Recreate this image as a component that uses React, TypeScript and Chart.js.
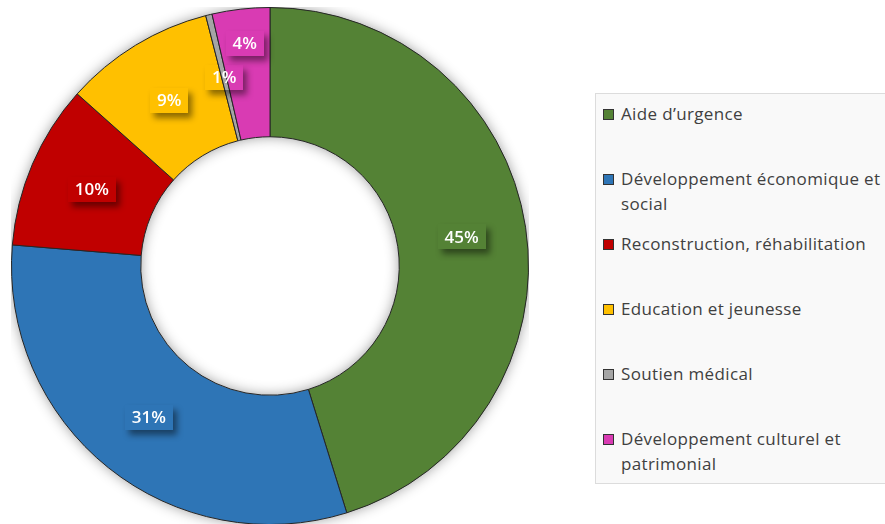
import React, { useEffect, useRef } from "react";
import { Chart, registerables } from "chart.js";

Chart.register(...registerables);

const categories = [
  "Aide d’urgence",
  "Développement économique et social",
  "Reconstruction, réhabilitation",
  "Education et jeunesse",
  "Soutien médical",
  "Développement culturel et patrimonial",
];
const shares = [45.2, 31.1, 10.3, 9.4, 0.4, 3.6];
const shareLabels = ["45%", "31%", "10%", "9%", "1%", "4%"];
const colors = ["#548235", "#2E75B6", "#C00000", "#FFC000", "#A5A5A5", "#D93BB3"];

const labelFills = ["#548235", "#2E75B6", "#C00000", "#FFC000", "transparent", "#D93BB3"];
const labelShift = [0, 0, 0, 0, 0, 30];

const ringShadow = {
  id: "ringShadow",
  beforeDatasetsDraw(chart: any) {
    const meta = chart.getDatasetMeta(0);
    const a = meta.data[0];
    if (!a) return;
    const { x, y, innerRadius, outerRadius } = a.getProps(["x", "y", "innerRadius", "outerRadius"], true);
    const ctx = chart.ctx;
    ctx.save();
    ctx.shadowColor = "rgba(0,0,0,0.45)";
    ctx.shadowBlur = 14;
    ctx.fillStyle = "#888";
    ctx.beginPath();
    ctx.arc(x, y, outerRadius - 1, 0, Math.PI * 2);
    ctx.arc(x, y, innerRadius + 1, 0, Math.PI * 2, true);
    ctx.fill("evenodd");
    ctx.restore();
  },
};

const boxLabels = {
  id: "boxLabels",
  afterDatasetsDraw(chart: any) {
    const meta = chart.getDatasetMeta(0);
    const ctx = chart.ctx;
    ctx.save();
    ctx.font = "600 17px 'Open Sans'";
    meta.data.forEach((arc: any, i: number) => {
      const p = arc.getProps(["x", "y", "startAngle", "endAngle", "innerRadius", "outerRadius"], true);
      const mid = (p.startAngle + p.endAngle) / 2;
      const r = (p.innerRadius + p.outerRadius) / 2 + labelShift[i];
      const cx = p.x + Math.cos(mid) * r;
      const cy = p.y + Math.sin(mid) * r;
      const text = shareLabels[i];
      const tw = ctx.measureText(text).width;
      const w = Math.round(tw + 14);
      const h = 25;
      const bx = Math.round(cx - w / 2);
      const by = Math.round(cy - h / 2);
      ctx.save();
      ctx.beginPath();
      ctx.rect(0, 0, chart.width, chart.height);
      ctx.rect(bx, by, w, h);
      ctx.clip("evenodd");
      ctx.filter = "blur(3px)";
      ctx.fillStyle = "rgba(0,0,0,0.45)";
      ctx.fillRect(bx + 4, by + 5, w, h);
      ctx.restore();
      if (labelFills[i] !== "transparent") {
        ctx.fillStyle = labelFills[i];
        ctx.fillRect(bx, by, w, h);
      }
      ctx.fillStyle = "#ffffff";
      ctx.textAlign = "center";
      ctx.textBaseline = "middle";
      ctx.fillText(text, cx, cy + 1);
    });
    ctx.restore();
  },
};

export default function App() {
  const ref = useRef<HTMLCanvasElement | null>(null);
  useEffect(() => {
    if (!ref.current) return;
    const chart = new Chart(ref.current, {
      type: "doughnut",
      data: {
        labels: categories,
        datasets: [
          {
            data: shares,
            backgroundColor: colors,
            borderColor: "#262626",
            borderWidth: 1,
          },
        ],
      },
      options: {
        responsive: true,
        maintainAspectRatio: false,
        animation: false,
        cutout: "50%",
        layout: { padding: 0 },
        plugins: {
          legend: { display: false },
          tooltip: { enabled: false },
        },
      },
      plugins: [ringShadow, boxLabels],
    });
    return () => chart.destroy();
  }, []);

  return (
    <div style={{ position: "absolute", left: 0, top: 0, width: 885, height: 524, background: "#fff", overflow: "hidden" }}>
      <div style={{ position: "absolute", left: 11, top: 7, width: 518, height: 518 }}>
        <canvas ref={ref} />
      </div>
      <div
        style={{
          position: "absolute",
          left: 595,
          top: 93,
          width: 289,
          height: 389,
          background: "#f9f9f9",
          border: "1px solid #dcdcdc",
          fontFamily: "'Open Sans', sans-serif",
          fontSize: 17,
          letterSpacing: "0.35px",
          color: "#404040",
        }}
      >
        {categories.map((c, i) => (
          <div
            key={c}
            style={{
              position: "absolute",
              left: 25,
              top: 7 + 65 * i,
              width: 264,
              lineHeight: "25px",
            }}
          >
            <span
              style={{
                position: "absolute",
                left: -18,
                top: 8,
                width: 9,
                height: 9,
                background: colors[i],
                border: "1px solid #333",
              }}
            />
            {c}
          </div>
        ))}
      </div>
    </div>
  );
}
